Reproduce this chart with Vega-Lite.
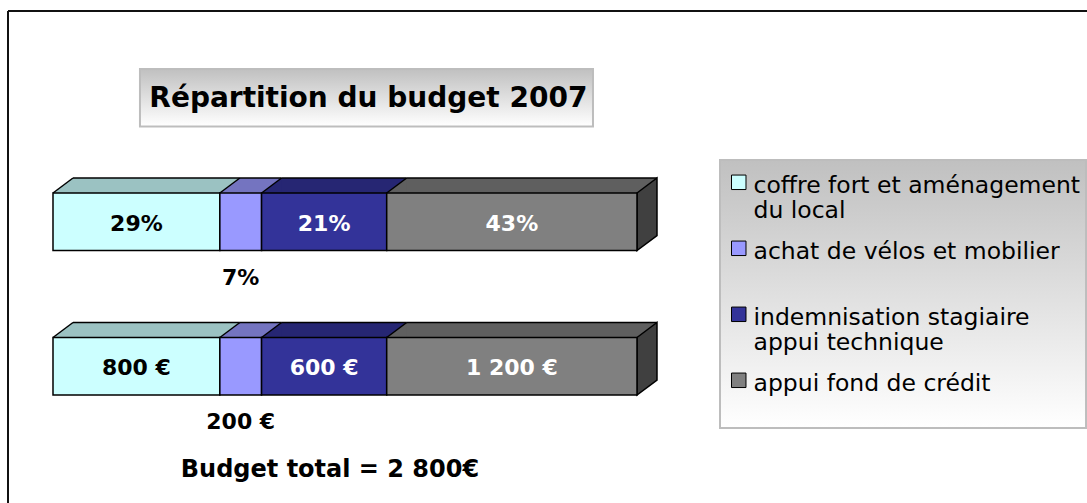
{
  "$schema": "https://vega.github.io/schema/vega-lite/v6.json",
  "width": 1079,
  "height": 492,
  "autosize": "none",
  "padding": {"left": 8, "top": 11, "right": 0, "bottom": 0},
  "background": "white",
  "config": {
    "view": {"stroke": null},
    "axis": {"disable": true}
  },
  "data": {
    "values": [
      {"serie": "pourcentages", "poste": "coffre fort et aménagement du local", "ordre": 1, "montant": 800, "etiquette": "29%"},
      {"serie": "pourcentages", "poste": "achat de vélos et mobilier", "ordre": 2, "montant": 200, "etiquette": "7%"},
      {"serie": "pourcentages", "poste": "indemnisation stagiaire appui technique", "ordre": 3, "montant": 600, "etiquette": "21%"},
      {"serie": "pourcentages", "poste": "appui fond de crédit", "ordre": 4, "montant": 1200, "etiquette": "43%"},
      {"serie": "montants", "poste": "coffre fort et aménagement du local", "ordre": 1, "montant": 800, "etiquette": "800 €"},
      {"serie": "montants", "poste": "achat de vélos et mobilier", "ordre": 2, "montant": 200, "etiquette": "200 €"},
      {"serie": "montants", "poste": "indemnisation stagiaire appui technique", "ordre": 3, "montant": 600, "etiquette": "600 €"},
      {"serie": "montants", "poste": "appui fond de crédit", "ordre": 4, "montant": 1200, "etiquette": "1 200 €"}
    ]
  },
  "layer": [
    {
      "data": {"values": [{"cadre": "gauche"}]},
      "mark": {"type": "rule", "color": "#111111", "strokeWidth": 2},
      "encoding": {
        "x": {"datum": -215.75, "type": "quantitative", "axis": null}
      }
    },
    {
      "data": {"values": [{"cadre": "haut"}]},
      "mark": {"type": "rule", "color": "#111111", "strokeWidth": 2, "yOffset": -66.25},
      "encoding": {
        "y": {"datum": "titre", "type": "nominal", "axis": null}
      }
    },
    {
      "data": {"values": [{"texte": "Répartition du budget 2007"}]},
      "mark": {"type": "bar", "yOffset": 20.5, "y2Offset": 20.5, "stroke": "#bdbdbd", "strokeWidth": 2,
        "fill": {"x1": 0, "y1": 0, "x2": 0, "y2": 1, "gradient": "linear", "stops": [{"offset": 0, "color": "#c0c0c0"}, {"offset": 1, "color": "#ffffff"}]}},
      "encoding": {
        "x": {"datum": 417, "type": "quantitative", "axis": null},
        "x2": {"datum": 2589},
        "y": {"datum": "titre", "type": "nominal", "axis": null}
      }
    },
    {
      "data": {"values": [{"texte": "Répartition du budget 2007"}]},
      "mark": {"type": "text", "font": "DejaVu Sans", "fontWeight": "bold", "fontSize": 28, "baseline": "middle", "align": "center", "yOffset": 22, "color": "black"},
      "encoding": {
        "x": {"datum": 1512, "type": "quantitative", "axis": null},
        "y": {"datum": "titre", "type": "nominal", "axis": null},
        "text": {"field": "texte"}
      }
    },
    {
      "data": {"values": [{"cadre": "légende"}]},
      "mark": {"type": "bar", "height": 268, "yOffset": 72.25, "stroke": "#bdbdbd", "strokeWidth": 2,
        "fill": {"x1": 0, "y1": 0, "x2": 0, "y2": 1, "gradient": "linear", "stops": [{"offset": 0, "color": "#c0c0c0"}, {"offset": 1, "color": "#ffffff"}]}},
      "encoding": {
        "x": {"datum": 3198, "type": "quantitative", "axis": null},
        "x2": {"datum": 4953},
        "y": {"datum": "pourcentages", "type": "nominal", "axis": null}
      }
    },
    {
      "data": {"values": [{"texte": "Budget total = 2 800€"}]},
      "mark": {"type": "text", "font": "DejaVu Sans", "fontWeight": "bold", "fontSize": 24, "baseline": "middle", "align": "center", "yOffset": -41, "color": "black"},
      "encoding": {
        "x": {"datum": 1328, "type": "quantitative", "axis": null},
        "y": {"datum": "total", "type": "nominal", "axis": null},
        "text": {"field": "texte"}
      }
    },
    {
      "transform": [
        {"stack": "montant", "groupby": ["serie"], "sort": [{"field": "ordre", "order": "ascending"}], "as": ["debut", "fin"]},
        {"calculate": "(datum.debut + datum.fin) / 2", "as": "milieu"}
      ],
      "layer": [
        {
          "mark": {"type": "rule", "strokeWidth": 15, "strokeCap": "butt", "xOffset": 19, "x2Offset": 20, "yOffset": -36.25},
          "encoding": {
            "x": {"field": "debut", "type": "quantitative", "axis": null},
            "x2": {"field": "fin"},
            "y": {"field": "serie", "type": "nominal", "axis": null},
            "stroke": {"field": "ordre", "type": "nominal", "legend": null,
              "scale": {"domain": [1, 2, 3, 4], "range": ["#9bc2c2", "#7474c0", "#262673", "#5f5f5f"]}}
          }
        },
        {
          "mark": {"type": "point", "filled": true, "opacity": 1, "strokeWidth": 0, "size": 3306.25, "shape": "M0,-1L0.6957,-1L0.6957,-1.5217Z"},
          "encoding": {
            "x": {"field": "debut", "type": "quantitative", "axis": null},
            "y": {"field": "serie", "type": "nominal", "axis": null},
            "fill": {"field": "ordre", "type": "nominal", "legend": null,
              "scale": {"domain": [1, 2, 3, 4], "range": ["#9bc2c2", "#7474c0", "#262673", "#5f5f5f"]}}
          }
        },
        {
          "transform": [{"filter": "datum.ordre == 4"}],
          "mark": {"type": "point", "filled": true, "opacity": 1, "fill": "#404040", "stroke": "#000000", "strokeWidth": 1.5, "strokeJoin": "miter", "size": 3306.25, "shape": "M0,-1L0.6957,-1.5217L0.6957,0.4783L0,1Z"},
          "encoding": {
            "x": {"field": "fin", "type": "quantitative", "axis": null},
            "y": {"field": "serie", "type": "nominal", "axis": null}
          }
        },
        {
          "mark": {"type": "point", "filled": false, "opacity": 1, "stroke": "#000000", "strokeWidth": 1.5, "size": 3306.25, "shape": "M0,-1L0.6957,-1.5217"},
          "encoding": {
            "x": {"field": "debut", "type": "quantitative", "axis": null},
            "y": {"field": "serie", "type": "nominal", "axis": null}
          }
        },
        {
          "mark": {"type": "rule", "strokeWidth": 1.5, "color": "#000000", "xOffset": 20, "x2Offset": 20, "yOffset": -43.75},
          "encoding": {
            "x": {"field": "debut", "type": "quantitative", "axis": null},
            "x2": {"field": "fin"},
            "y": {"field": "serie", "type": "nominal", "axis": null}
          }
        },
        {
          "mark": {"type": "bar", "stroke": "#000000", "strokeWidth": 1.5, "opacity": 1},
          "encoding": {
            "x": {"field": "debut", "type": "quantitative", "axis": null,
              "scale": {"domain": [-215.75, 4957.6], "nice": false, "zero": false}},
            "x2": {"field": "fin"},
            "y": {"field": "serie", "type": "nominal", "axis": null,
              "scale": {"type": "band", "domain": ["titre", "pourcentages", "montants", "total"], "range": [37.5, 528.5], "paddingInner": 0.60208, "paddingOuter": 0}},
            "color": {"field": "poste", "type": "nominal",
              "scale": {"domain": ["coffre fort et aménagement du local", "achat de vélos et mobilier", "indemnisation stagiaire appui technique", "appui fond de crédit"],
                "range": ["#ccffff", "#9999ff", "#333399", "#808080"]},
              "legend": {
                "orient": "none", "legendX": 712, "legendY": 147, "title": null,
                "symbolType": "M-1,0.18H1V2.18H-1Z", "symbolSize": 210, "symbolStrokeColor": "#000000", "symbolStrokeWidth": 1, "symbolOffset": 3,
                "labelFont": "DejaVu Sans", "labelFontSize": 23.5, "labelColor": "#000000", "labelLineHeight": 27,
                "labelBaseline": "top", "labelLimit": 500, "labelOffset": 3, "rowPadding": 5, "padding": 4,
                "labelExpr": "datum.label == 'coffre fort et aménagement du local' ? ['coffre fort et aménagement', 'du local'] : datum.label == 'indemnisation stagiaire appui technique' ? ['indemnisation stagiaire', 'appui technique'] : [datum.label, '\u00a0']"
              }
            }
          }
        },
        {
          "transform": [{"filter": "datum.ordre != 2"}],
          "mark": {"type": "text", "font": "DejaVu Sans", "fontWeight": "bold", "fontSize": 22, "baseline": "middle", "align": "center", "dy": 2},
          "encoding": {
            "x": {"field": "milieu", "type": "quantitative", "axis": null},
            "y": {"field": "serie", "type": "nominal", "axis": null},
            "text": {"field": "etiquette"},
            "color": {"condition": {"test": "datum.ordre == 1", "value": "#000000"}, "value": "#ffffff"}
          }
        },
        {
          "transform": [{"filter": "datum.ordre == 2"}],
          "mark": {"type": "text", "font": "DejaVu Sans", "fontWeight": "bold", "fontSize": 22, "baseline": "middle", "align": "center", "dy": 56, "color": "#000000"},
          "encoding": {
            "x": {"field": "milieu", "type": "quantitative", "axis": null},
            "y": {"field": "serie", "type": "nominal", "axis": null},
            "text": {"field": "etiquette"}
          }
        }
      ]
    }
  ]
}
